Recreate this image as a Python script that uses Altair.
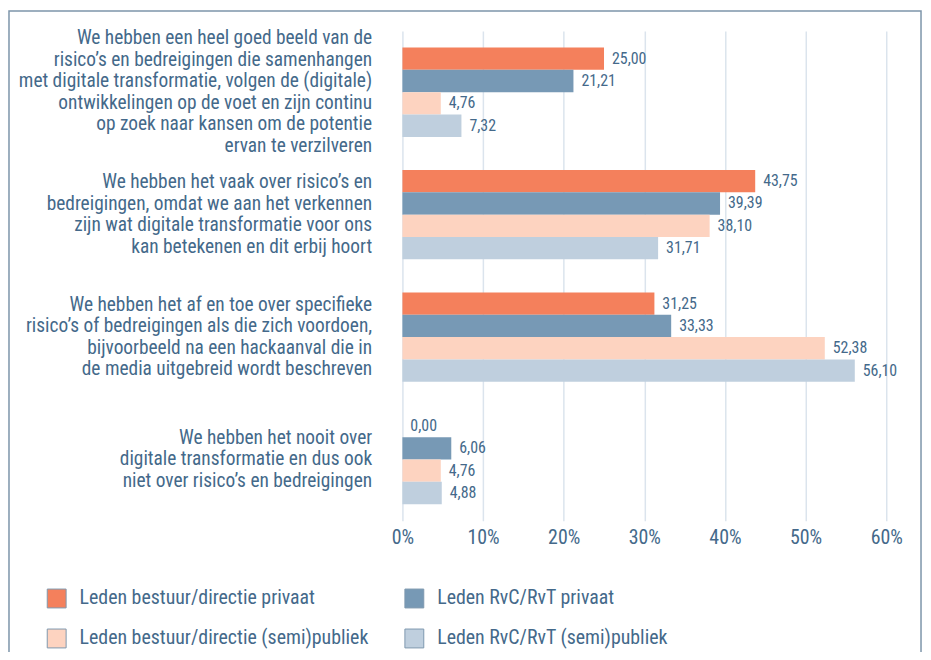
import altair as alt
import pandas as pd

categories = [
    "We hebben een heel goed beeld van de|risico’s en bedreigingen die samenhangen|met digitale transformatie, volgen de (digitale)|ontwikkelingen op de voet en zijn continu|op zoek naar kansen om de potentie|ervan te verzilveren",
    "We hebben het vaak over risico’s en|bedreigingen, omdat we aan het verkennen|zijn wat digitale transformatie voor ons|kan betekenen en dit erbij hoort",
    "We hebben het af en toe over specifieke|risico’s of bedreigingen als die zich voordoen,|bijvoorbeeld na een hackaanval die in|de media uitgebreid wordt beschreven",
    "We hebben het nooit over|digitale transformatie en dus ook|niet over risico’s en bedreigingen",
]
series = [
    "Leden bestuur/directie privaat",
    "Leden RvC/RvT privaat",
    "Leden bestuur/directie (semi)publiek",
    "Leden RvC/RvT (semi)publiek",
]
bestuur_privaat = [25.00, 43.75, 31.25, 0.00]
rvc_privaat = [21.21, 39.39, 33.33, 6.06]
bestuur_semi = [4.76, 38.10, 52.38, 4.76]
rvc_semi = [7.32, 31.71, 56.10, 4.88]
colors = ["#f4805c", "#7799b5", "#fdd3c0", "#bfcfde"]
x_ticks = [0, 10, 20, 30, 40, 50, 60]

# legend is filled column by column: put series in that order
legend_order = [series[0], series[2], series[1], series[3]]
legend_colors = [colors[0], colors[2], colors[1], colors[3]]

rows = []
for s, vals in zip(series, [bestuur_privaat, rvc_privaat, bestuur_semi, rvc_semi]):
    for c, v in zip(categories, vals):
        rows.append({"cat": c, "series": s, "value": v,
                     "label": f"{v:.2f}".replace(".", ",")})
df = pd.DataFrame(rows)

FONT = "'Roboto Condensed', 'DejaVu Sans Condensed', 'Liberation Sans Narrow', Roboto, sans-serif"
TXT = "#44698a"
LH = 21.7

label_shift = {
    "condition": [
        {"test": "length(split(datum.value, '|')) == 6", "value": -2.5 * LH},
        {"test": "length(split(datum.value, '|')) == 4", "value": -1.5 * LH},
    ],
    "value": -1.0 * LH,
}

y_enc = alt.Y("cat:N", sort=categories,
              scale=alt.Scale(paddingInner=0.27, paddingOuter=0.135),
              axis=alt.Axis(title=None, labelExpr="split(datum.label, '|')",
                            labelFontSize=19.5, labelLineHeight=LH,
                            labelOffset=label_shift,
                            labelPadding=31, labelLimit=0, ticks=False,
                            domain=False, grid=False, labelAlign="right",
                            labelBaseline="middle"))
yoff = alt.YOffset("series:N", sort=series,
                   scale=alt.Scale(paddingInner=0, paddingOuter=0))
x_enc = alt.X("value:Q", scale=alt.Scale(domain=[0, 60], nice=False),
              axis=alt.Axis(title=None, values=x_ticks,
                            labelExpr="datum.value + '%'",
                            labelFontSize=20, labelPadding=7, ticks=False,
                            tickSize=0, domain=False, grid=True,
                            labelFlush=False,
                            gridColor="#dbe4ed", gridWidth=1.5))

base = alt.Chart(df)
bars = base.mark_bar().encode(
    x=x_enc, y=y_enc, yOffset=yoff,
    color=alt.Color("series:N",
                    scale=alt.Scale(domain=legend_order, range=legend_colors),
                    legend=alt.Legend(title=None, orient="none",
                                      legendX=-358, legendY=561,
                                      columns=2, columnPadding=34,
                                      rowPadding=16.5, symbolType="square",
                                      symbolSize=361, symbolStrokeColor="#7e98ae",
                                      symbolStrokeWidth=1, symbolOpacity=1,
                                      labelFontSize=20, labelFont=FONT,
                                      labelColor=TXT, labelOffset=13,
                                      labelLimit=0, padding=0)),
)
texts = base.mark_text(align="left", baseline="middle", dx=8,
                       fontSize=16, font=FONT, color=TXT).encode(
    x="value:Q", y=alt.Y("cat:N", sort=categories), yOffset=yoff,
    text="label:N",
)
frame = alt.Chart(pd.DataFrame({"k": [0]})).mark_rect(
    fill=None, stroke="#7d95aa", strokeWidth=1.5).encode(
    x=alt.value(-396), x2=alt.value(522), y=alt.value(-20), y2=alt.value(700))

chart = alt.layer(frame, bars, texts).properties(
    width=487, height=493,
    autosize=alt.AutoSizeParams(type="none"),
    padding={"left": 397, "top": 21, "right": 37, "bottom": 130},
).configure_view(stroke=None).configure_axis(
    labelFont=FONT, labelColor=TXT
)

chart.save("out.html", embed_options={"renderer": "svg", "actions": False})
